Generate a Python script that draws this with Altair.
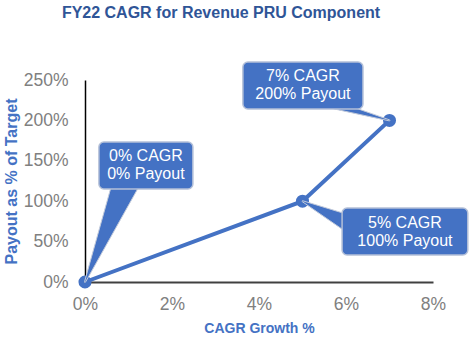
import altair as alt
import pandas as pd

# series data
cagr = [0.0, 0.05, 0.07]
payout = [0.0, 1.0, 2.0]
callout_text = ["0% CAGR\n0% Payout", "5% CAGR\n100% Payout", "7% CAGR\n200% Payout"]

# callout annotation layout (data units)
box_x1 = [0.0032, 0.0591, 0.0363]
box_x2 = [0.0248, 0.0880, 0.0639]
box_y1 = [1.151, 0.334, 2.141]
box_y2 = [1.733, 0.916, 2.723]
ptr_x = [0.0092, 0.0600, 0.0575]
ptr_y = [1.20, 0.74, 2.19]
ptr_w = [26, 16, 8]

x_ticks = [0, 0.02, 0.04, 0.06, 0.08]
y_ticks = [0, 0.5, 1.0, 1.5, 2.0, 2.5]

BLUE = "#4472C4"
FONT = "Liberation Sans"

series = pd.DataFrame({"x": cagr, "y": payout})
boxes = pd.DataFrame({
    "x": box_x1, "x2": box_x2, "y": box_y1, "y2": box_y2,
    "cx": [(a + b) / 2 for a, b in zip(box_x1, box_x2)],
    "cy": [(a + b) / 2 for a, b in zip(box_y1, box_y2)],
    "label": callout_text,
})
rows = []
for i in range(len(cagr)):
    rows.append({"id": i, "seq": 0, "x": ptr_x[i], "y": ptr_y[i], "w": ptr_w[i]})
    rows.append({"id": i, "seq": 1, "x": cagr[i], "y": payout[i], "w": 1})
ptrs = pd.DataFrame(rows)

xs = alt.Scale(domain=[0, 0.08], nice=False, zero=False)
ys = alt.Scale(domain=[0, 2.5], nice=False, zero=False)

xaxis = alt.Axis(values=x_ticks, format=".0%", grid=False, ticks=False, labelFlush=False,
                 domainColor="#404040", domainWidth=2,
                 labelFontSize=17.5, labelColor="#808080", labelFont=FONT, labelPadding=13,
                 title="CAGR Growth %", titleFont=FONT, titleFontSize=14,
                 titleColor=BLUE, titleFontWeight="bold", titlePadding=9)
yaxis = alt.Axis(values=y_ticks, format=".0%", grid=False, ticks=False, labelFlush=False,
                 domainColor="#000000", domainWidth=1.5,
                 labelFontSize=17.5, labelColor="#808080", labelFont=FONT, labelPadding=17,
                 title="Payout as % of Target", titleFont=FONT, titleFontSize=16,
                 titleColor=BLUE, titleFontWeight="bold", titlePadding=4)

X = alt.X("x:Q", scale=xs, axis=xaxis)
Y = alt.Y("y:Q", scale=ys, axis=yaxis)

line = alt.Chart(series).mark_line(color=BLUE, strokeWidth=4).encode(x=X, y=Y)
pts = alt.Chart(series).mark_point(filled=True, color=BLUE, size=170, opacity=1).encode(x=X, y=Y)
trails = alt.Chart(ptrs).mark_trail(color=BLUE, stroke="#c3cbdb", strokeWidth=1).encode(
    x=X, y=Y, detail="id:N", order="seq:Q",
    size=alt.Size("w:Q", scale=None, legend=None))
rects = alt.Chart(boxes).mark_rect(fill=BLUE, stroke="#b4c0d8", strokeWidth=1.5, cornerRadius=5).encode(
    x=X, x2="x2", y=Y, y2="y2")
texts = alt.Chart(boxes).mark_text(color="white", font=FONT, fontSize=16, lineBreak="\n",
                                   lineHeight=18, baseline="middle", align="center", dy=-9).encode(
    x=alt.X("cx:Q", scale=xs, axis=xaxis), y=alt.Y("cy:Q", scale=ys, axis=yaxis), text="label:N")

chart = alt.layer(line, pts, trails, rects, texts).properties(
    width=348, height=202,
    autosize="none",
    padding={"left": 85, "top": 80, "right": 37, "bottom": 56},
    title=alt.TitleParams("FY22 CAGR for Revenue PRU Component", font=FONT, fontSize=16,
                          fontWeight="bold", color="#2F5597", anchor="middle", dx=-38, dy=-36),
).configure_view(stroke=None)

chart.save("out.html", embed_options={"renderer": "svg", "actions": False})
